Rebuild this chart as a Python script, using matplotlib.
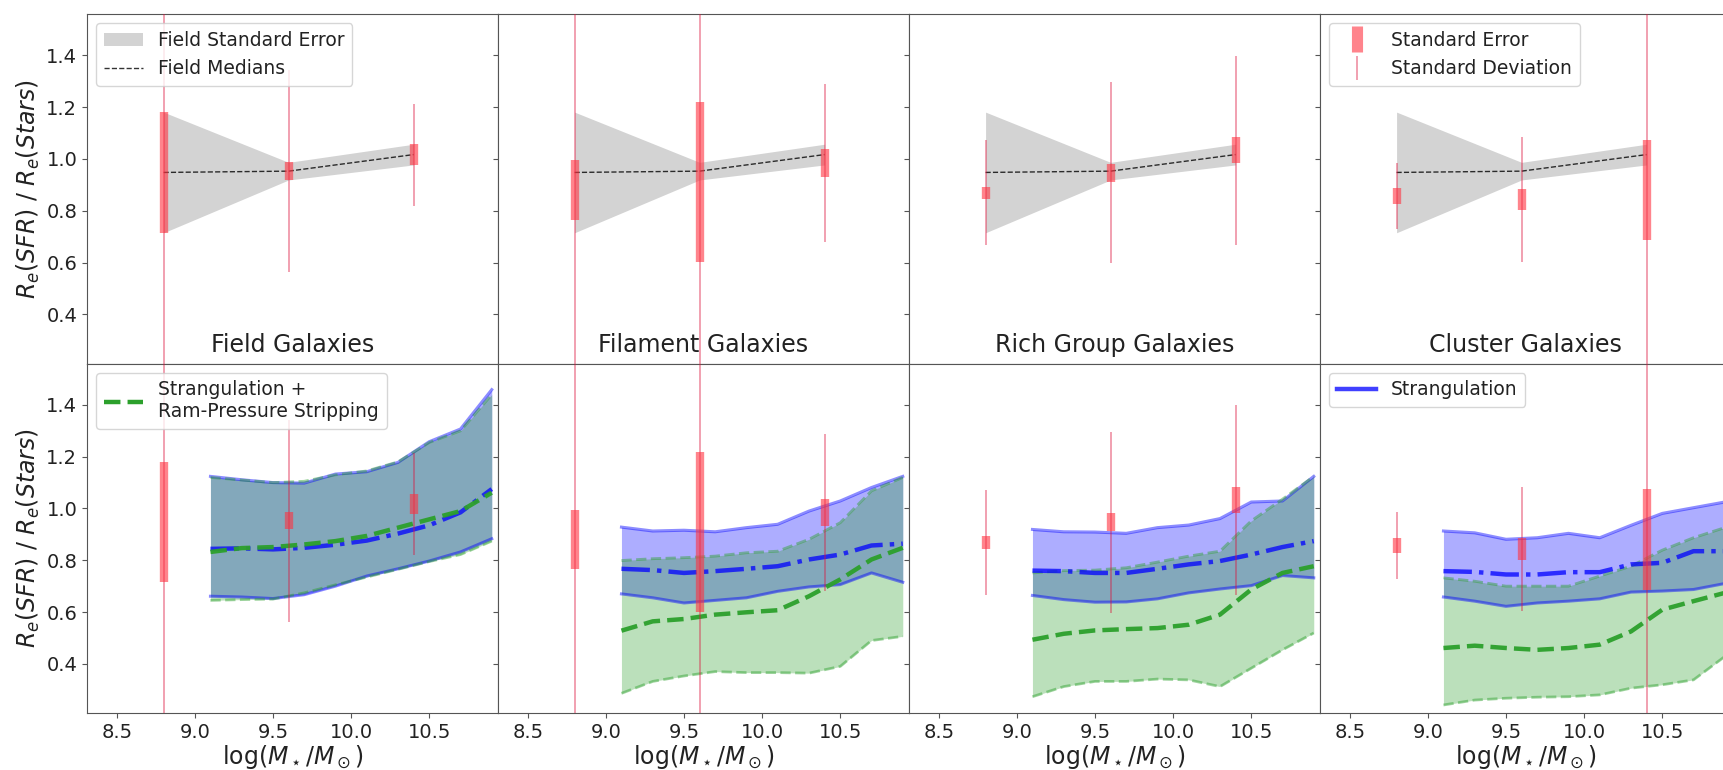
import numpy as np
import matplotlib
matplotlib.use("Agg")
import matplotlib.pyplot as plt
from matplotlib.lines import Line2D

# ---------------------------------------------------------------------------
# Observed medians with standard errors / standard deviations (per environment)
# ---------------------------------------------------------------------------
obs_mass = [8.8, 9.6, 10.4]

environments = ["Field Galaxies", "Filament Galaxies",
                "Rich Group Galaxies", "Cluster Galaxies"]

field_median = [0.948, 0.953, 1.017]
field_se = [0.233, 0.034, 0.040]
field_sd = [0.90, 0.390, 0.197]

filament_median = [0.880, 0.911, 0.985]
filament_se = [0.115, 0.309, 0.053]
filament_sd = [0.90, 0.90, 0.304]

group_median = [0.869, 0.947, 1.033]
group_se = [0.024, 0.034, 0.050]
group_sd = [0.203, 0.349, 0.366]

cluster_median = [0.857, 0.843, 0.880]
cluster_se = [0.030, 0.042, 0.194]
cluster_sd = [0.128, 0.240, 0.90]

# ---------------------------------------------------------------------------
# Model tracks: strangulation (blue) and strangulation + RPS (green)
# ---------------------------------------------------------------------------
model_mass = [9.1, 9.3, 9.5, 9.7, 9.9, 10.1, 10.3, 10.5, 10.7, 10.9]

# Field
field_str_med = [0.844, 0.846, 0.842, 0.848, 0.860, 0.876, 0.903, 0.935, 0.985, 1.075]
field_str_lo = [0.661, 0.658, 0.652, 0.667, 0.700, 0.739, 0.767, 0.797, 0.832, 0.883]
field_str_hi = [1.124, 1.111, 1.100, 1.098, 1.133, 1.142, 1.178, 1.258, 1.307, 1.459]
field_rps_med = [0.832, 0.847, 0.851, 0.861, 0.874, 0.894, 0.926, 0.958, 0.990, 1.061]
field_rps_lo = [0.645, 0.648, 0.650, 0.674, 0.705, 0.735, 0.765, 0.795, 0.822, 0.874]
field_rps_hi = [1.120, 1.110, 1.100, 1.105, 1.130, 1.145, 1.180, 1.255, 1.300, 1.440]

# Filament
fil_str_med = [0.767, 0.762, 0.751, 0.758, 0.767, 0.777, 0.803, 0.822, 0.857, 0.864]
fil_str_lo = [0.670, 0.655, 0.635, 0.645, 0.655, 0.680, 0.697, 0.706, 0.751, 0.715]
fil_str_hi = [0.928, 0.913, 0.916, 0.910, 0.926, 0.939, 0.990, 1.029, 1.081, 1.124]
fil_rps_med = [0.528, 0.564, 0.573, 0.590, 0.599, 0.607, 0.661, 0.726, 0.803, 0.848]
fil_rps_lo = [0.286, 0.332, 0.353, 0.370, 0.366, 0.366, 0.364, 0.390, 0.490, 0.506]
fil_rps_hi = [0.799, 0.806, 0.810, 0.816, 0.829, 0.835, 0.881, 0.945, 1.068, 1.120]

# Rich group
grp_str_med = [0.760, 0.758, 0.751, 0.751, 0.767, 0.784, 0.797, 0.822, 0.851, 0.874]
grp_str_lo = [0.664, 0.648, 0.638, 0.639, 0.651, 0.674, 0.689, 0.702, 0.741, 0.732]
grp_str_hi = [0.919, 0.910, 0.909, 0.904, 0.926, 0.936, 0.961, 1.025, 1.029, 1.124]
grp_rps_med = [0.493, 0.516, 0.529, 0.534, 0.538, 0.551, 0.590, 0.687, 0.751, 0.777]
grp_rps_lo = [0.273, 0.312, 0.332, 0.332, 0.341, 0.338, 0.312, 0.383, 0.454, 0.519]
grp_rps_hi = [0.751, 0.760, 0.762, 0.771, 0.793, 0.816, 0.835, 0.952, 1.036, 1.124]

# Cluster
clu_str_med = [0.758, 0.755, 0.745, 0.745, 0.754, 0.754, 0.784, 0.790, 0.835, 0.835]
clu_str_lo = [0.658, 0.642, 0.622, 0.635, 0.642, 0.651, 0.677, 0.681, 0.687, 0.710]
clu_str_hi = [0.913, 0.906, 0.881, 0.887, 0.904, 0.887, 0.935, 0.981, 1.003, 1.025]
clu_rps_med = [0.461, 0.470, 0.461, 0.454, 0.461, 0.474, 0.525, 0.609, 0.642, 0.674]
clu_rps_lo = [0.241, 0.260, 0.267, 0.271, 0.273, 0.280, 0.306, 0.319, 0.338, 0.428]
clu_rps_hi = [0.732, 0.719, 0.700, 0.700, 0.700, 0.739, 0.777, 0.839, 0.887, 0.926]

obs = [
    (field_median, field_se, field_sd),
    (filament_median, filament_se, filament_sd),
    (group_median, group_se, group_sd),
    (cluster_median, cluster_se, cluster_sd),
]
models = [
    (field_str_med, field_str_lo, field_str_hi, field_rps_med, field_rps_lo, field_rps_hi),
    (fil_str_med, fil_str_lo, fil_str_hi, fil_rps_med, fil_rps_lo, fil_rps_hi),
    (grp_str_med, grp_str_lo, grp_str_hi, grp_rps_med, grp_rps_lo, grp_rps_hi),
    (clu_str_med, clu_str_lo, clu_str_hi, clu_rps_med, clu_rps_lo, clu_rps_hi),
]

# ---------------------------------------------------------------------------
W, H = 1723, 770
fig = plt.figure(figsize=(W / 100, H / 100), dpi=100)

left_px, width_px = 87, 411
top_px, row_h = 14, 349.5

SE_COLOR = (1.0, 0.2, 0.25)
SD_COLOR = "crimson"
TXT = "#222222"


def draw_obs(ax, med, se, sd):
    ax.errorbar(obs_mass, med, yerr=sd, fmt="none", ecolor=SD_COLOR,
                elinewidth=1.4, alpha=0.4, capsize=0, zorder=5)
    ax.errorbar(obs_mass, med, yerr=se, fmt="none", ecolor=SE_COLOR,
                elinewidth=6, alpha=0.6, capsize=0, zorder=6)


axes = [[None] * 4 for _ in range(2)]
ref = None
for r in range(2):
    for c in range(4):
        x0 = (left_px + c * width_px) / W
        y0 = 1 - (top_px + (r + 1) * row_h) / H
        ax = fig.add_axes([x0, y0, width_px / W, row_h / H],
                          sharex=ref, sharey=ref)
        if ref is None:
            ref = ax
        axes[r][c] = ax

fmed, fse, _ = obs[0]
field_lo = [m - s for m, s in zip(fmed, fse)]
field_hi = [m + s for m, s in zip(fmed, fse)]

for c in range(4):
    med, se, sd = obs[c]

    # top row: observations against the field reference
    ax = axes[0][c]
    ax.fill_between(obs_mass, field_lo, field_hi, color="lightgray",
                    lw=0, zorder=1, label="Field Standard Error")
    ax.plot(obs_mass, fmed, ls="--", color="k", lw=1, alpha=0.8,
            zorder=2, label="Field Medians")
    draw_obs(ax, med, se, sd)
    ax.text(0.5, 0.02, environments[c], transform=ax.transAxes,
            ha="center", va="bottom", fontsize=17, color=TXT)

    # bottom row: observations against model tracks
    ax = axes[1][c]
    s_med, s_lo, s_hi, g_med, g_lo, g_hi = models[c]
    ax.fill_between(model_mass, s_lo, s_hi, color="blue", alpha=0.32,
                    lw=0, zorder=1)
    ax.plot(model_mass, s_lo, color="blue", lw=2.2, alpha=0.45, zorder=2)
    ax.plot(model_mass, s_hi, color="blue", lw=2.2, alpha=0.45, zorder=2)
    ax.fill_between(model_mass, g_lo, g_hi, color="tab:green", alpha=0.32,
                    lw=0, zorder=1)
    ax.plot(model_mass, g_lo, color="tab:green", ls="--", lw=2, alpha=0.45,
            zorder=2)
    ax.plot(model_mass, g_hi, color="tab:green", ls="--", lw=2, alpha=0.45,
            zorder=2)
    ax.plot(model_mass, s_med, color="blue", ls="-.", lw=3.2, alpha=0.75,
            zorder=3)
    ax.plot(model_mass, g_med, color="tab:green", ls="--", lw=3.2,
            alpha=0.95, zorder=3)
    draw_obs(ax, med, se, sd)

ref.set_xlim(8.31, 10.94)
ref.set_ylim(0.21, 1.56)
ref.set_yticks([0.4, 0.6, 0.8, 1.0, 1.2, 1.4])
ref.set_xticks([8.5, 9.0, 9.5, 10.0, 10.5])

for r in range(2):
    for c in range(4):
        ax = axes[r][c]
        for sp in ax.spines.values():
            sp.set_color("#555555")
        ax.tick_params(colors="#555555", labelcolor=TXT, labelsize=14)
        if c > 0:
            ax.tick_params(axis="y", labelleft=False)
        if r == 0:
            ax.tick_params(axis="x", labelbottom=False, length=0)
        else:
            ax.set_xlabel(r"log($M_\star/M_\odot$)", fontsize=17, color=TXT,
                          labelpad=1)
    axes[r][0].set_ylabel(r"$R_e(SFR)$ / $R_e(Stars)$", fontsize=17,
                          color=TXT, labelpad=3)

# legends
leg_kw = dict(loc="upper left", fontsize=13.5, handlelength=2.1,
              borderaxespad=0.5, labelcolor=TXT)
axes[0][0].legend(**leg_kw)

se_handle = Line2D([], [], ls="none", marker="|", markersize=19,
                   markeredgewidth=8, color=SE_COLOR, alpha=0.6)
sd_handle = Line2D([], [], ls="none", marker="|", markersize=17,
                   markeredgewidth=1.4, color=SD_COLOR, alpha=0.4)
axes[0][3].legend([se_handle, sd_handle],
                  ["Standard Error", "Standard Deviation"], **leg_kw)

rps_handle = Line2D([], [], color="tab:green", ls="--", lw=3.2)
axes[1][0].legend([rps_handle], ["Strangulation +\nRam-Pressure Stripping"],
                  **leg_kw)
str_handle = Line2D([], [], color="blue", ls="-", lw=3.2, alpha=0.75)
axes[1][3].legend([str_handle], ["Strangulation"], **leg_kw)

fig.savefig("out.png", dpi=100)
